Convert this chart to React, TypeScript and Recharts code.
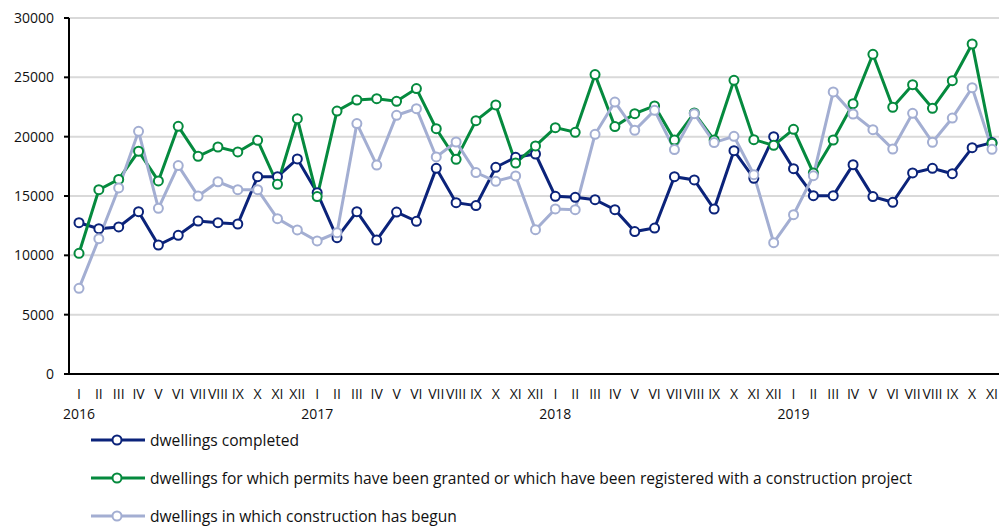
import { LineChart, Line, XAxis, YAxis, CartesianGrid } from "recharts";

const months = ["I", "II", "III", "IV", "V", "VI", "VII", "VIII", "IX", "X", "XI", "XII"];
const years = ["2016", "2017", "2018", "2019"];

const completed = [
  12750, 12250, 12390, 13680, 10870, 11690, 12890, 12750, 12640, 16630, 16630, 18120,
  15280, 11490, 13680, 11290, 13650, 12870, 17330, 14440, 14190, 17420, 18260, 18540,
  14970, 14890, 14690, 13850, 12000, 12300, 16630, 16350, 13900, 18820, 16490, 20000,
  17300, 15030, 15030, 17640, 14950, 14470, 16940, 17330, 16880, 19070, 19500,
];

const permits = [
  10170, 15530, 16400, 18770, 16270, 20870, 18350, 19130, 18710, 19690, 15990, 21520,
  14950, 22160, 23090, 23200, 22980, 24050, 20670, 18090, 21350, 22670, 17780, 19220,
  20760, 20370, 25230, 20850, 21940, 22590, 19720, 22000, 19720, 24750, 19750, 19270,
  20620, 16940, 19720, 22780, 26940, 22480, 24380, 22390, 24720, 27810, 19440,
];

const begun = [
  7220, 11400, 15680, 20450, 13960, 17560, 15000, 16200, 15530, 15530, 13090, 12140,
  11210, 11910, 21100, 17610, 21800, 22360, 18290, 19550, 16970, 16240, 16690, 12160,
  13910, 13850, 20200, 22920, 20540, 22220, 18910, 21940, 19500, 20030, 16800, 11070,
  13430, 16710, 23770, 21910, 20590, 18960, 21970, 19530, 21570, 24130, 18940,
];

const yTicks = [0, 5000, 10000, 15000, 20000, 25000, 30000];

const data = completed.map((v, i) => ({
  key: `${years[Math.floor(i / 12)]}-${months[i % 12]}`,
  month: months[i % 12],
  year: i % 12 === 0 ? years[Math.floor(i / 12)] : "",
  completed: v,
  permits: permits[i],
  begun: begun[i],
}));

const FONT = "'Open Sans', sans-serif";

const series = [
  { key: "completed", color: "#0b237a", name: "dwellings completed" },
  {
    key: "permits",
    color: "#058a3e",
    name: "dwellings for which permits have been granted or which have been registered with a construction project",
  },
  { key: "begun", color: "#a3aed2", name: "dwellings in which construction has begun" },
];

const MonthTick = (props: any) => {
  const { x, y, payload } = props;
  const row = data[payload.index] || data.find((d) => d.key === payload.value);
  return (
    <g>
      <text x={x} y={y + 17} textAnchor="middle" fontSize={14} fill="#111" fontFamily={FONT}>
        {row ? row.month : ""}
      </text>
      {row && row.year ? (
        <text x={x} y={y + 37} textAnchor="middle" fontSize={14} fill="#111" fontFamily={FONT}>
          {row.year}
        </text>
      ) : null}
    </g>
  );
};

export default function App() {
  return (
    <div style={{ position: "absolute", left: 0, top: 0, width: 999, height: 526, fontFamily: FONT }}>
      <LineChart
        width={999}
        height={526}
        data={data}
        margin={{ top: 18, right: 0, left: 8, bottom: 102 }}
      >
        <CartesianGrid vertical={false} stroke="#d9d9d9" strokeWidth={2} />
        <XAxis
          dataKey="key"
          interval={0}
          tickLine={false}
          axisLine={{ stroke: "#000", strokeWidth: 2 }}
          height={50}
          padding={{ left: 10, right: 7 }}
          tick={<MonthTick />}
        />
        <YAxis
          domain={[0, 30000]}
          ticks={yTicks}
          width={61}
          tickSize={5}
          tickMargin={10}
          tickLine={{ stroke: "#000", strokeWidth: 2 }}
          axisLine={{ stroke: "#000", strokeWidth: 2 }}
          tick={{ fontSize: 14, fill: "#111", fontFamily: FONT }}
        />
        {series.map((s) => (
          <Line
            key={s.key}
            dataKey={s.key}
            name={s.name}
            stroke={s.color}
            strokeWidth={3}
            dot={{ r: 4.5, fill: "#fff", stroke: s.color, strokeWidth: 2 }}
            isAnimationActive={false}
          />
        ))}
      </LineChart>
      {series.map((s, i) => (
        <div
          key={s.key}
          style={{
            position: "absolute",
            left: 91,
            top: 440 + i * 38 - 9,
            height: 18,
            lineHeight: "18px",
            display: "flex",
            alignItems: "center",
            fontSize: 15.6,
            color: "#111",
            whiteSpace: "nowrap",
          }}
        >
          <svg width={56} height={18} style={{ marginRight: 3 }}>
            <line x1={0} y1={9} x2={54} y2={9} stroke={s.color} strokeWidth={3} />
            <circle cx={26} cy={9} r={4.5} fill="#fff" stroke={s.color} strokeWidth={2} />
          </svg>
          <span>{s.name}</span>
        </div>
      ))}
    </div>
  );
}
